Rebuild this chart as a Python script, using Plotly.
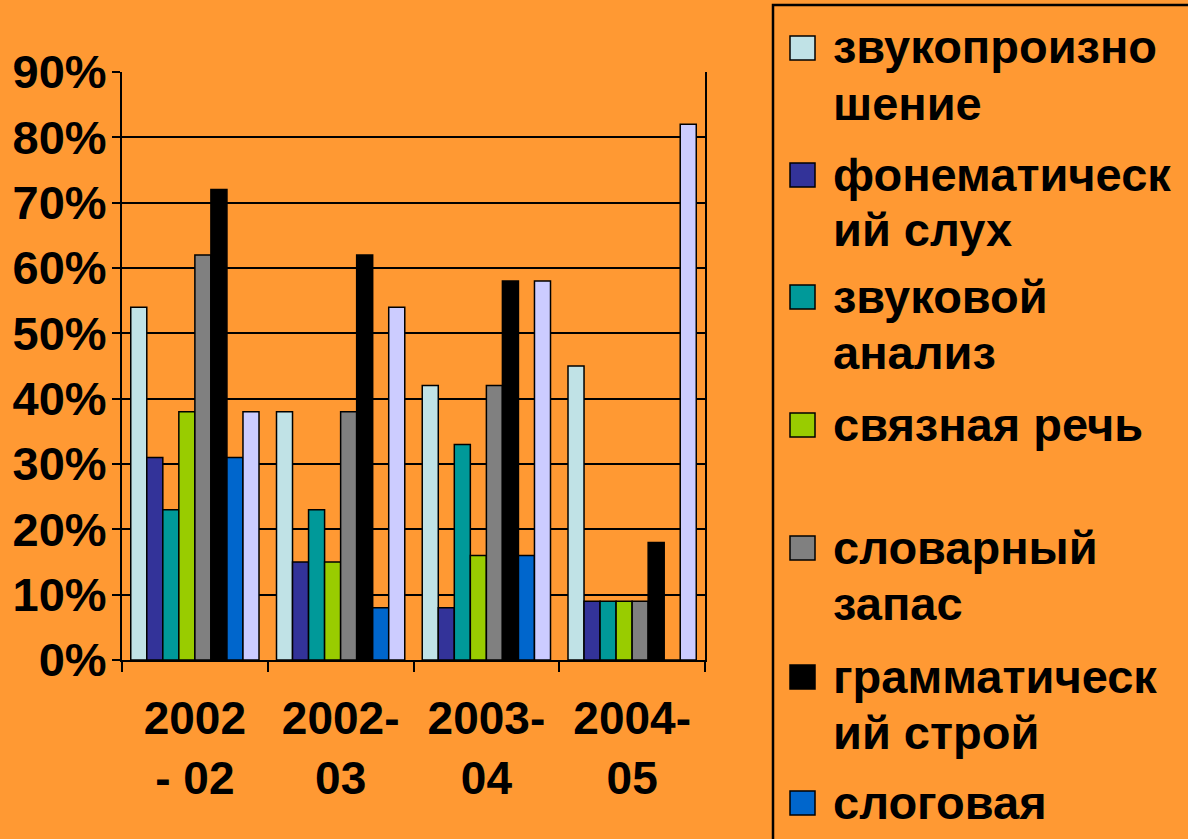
import plotly.graph_objects as go

categories = ["2002<br>- 02", "2002-<br>03", "2003-<br>04", "2004-<br>05"]

series_names = [
    "звукопроизношение",
    "фонематический слух",
    "звуковой анализ",
    "связная речь",
    "словарный запас",
    "грамматический строй",
    "слоговая",
    "",
]
series_colors = ["#C0E2E6", "#333399", "#009999", "#99CC00", "#808080", "#000000", "#0066CC", "#CCCCFF"]

values = [
    [54, 38, 42, 45],
    [31, 15, 8, 9],
    [23, 23, 33, 9],
    [38, 15, 16, 9],
    [62, 38, 42, 9],
    [72, 62, 58, 18],
    [31, 8, 16, 0],
    [38, 54, 58, 82],
]

legend_lines = [
    ["звукопроизно", "шение"],
    ["фонематическ", "ий слух"],
    ["звуковой", "анализ"],
    ["связная речь"],
    ["словарный", "запас"],
    ["грамматическ", "ий строй"],
    ["слоговая"],
]

y_ticks = [0, 10, 20, 30, 40, 50, 60, 70, 80, 90]
y_tick_labels = [f"{v}%" for v in y_ticks]

W, H = 1188, 839
L, R, T, B = 122, 705, 72, 660
BG = "#FF9933"
FONT = "Liberation Sans, Arial, sans-serif"
FS = 46


def px(x):
    return (x - L) / (R - L)


def py(y):
    return (B - y) / (B - T)


fig = go.Figure()
for name, color, vals in zip(series_names, series_colors, values):
    fig.add_trace(go.Bar(
        x=categories, y=vals, name=name,
        marker=dict(color=color, line=dict(color="#000000", width=1.5)),
    ))

shapes = []
annotations = []

# legend box
shapes.append(dict(type="rect", xref="paper", yref="paper",
                   x0=px(773), x1=px(1195), y0=py(850), y1=py(5),
                   line=dict(color="#000000", width=2.5), fillcolor="rgba(0,0,0,0)", layer="above"))

item_y = [48, 175, 297, 425, 548, 677, 803]
line_gap = 56
for i, lines in enumerate(legend_lines):
    yc = item_y[i]
    shapes.append(dict(type="rect", xref="paper", yref="paper",
                       x0=px(790), x1=px(815), y0=py(yc + 12), y1=py(yc - 12),
                       fillcolor=series_colors[i], line=dict(color="#000000", width=1.5),
                       layer="above"))
    for j, t in enumerate(lines):
        annotations.append(dict(
            xref="paper", yref="paper", x=px(831), y=py(yc - 1 + j * line_gap),
            xanchor="left", yanchor="middle", text=t, showarrow=False,
            font=dict(family=FONT, size=47, color="#000000", weight="bold"),
        ))

fig.update_layout(
    width=W, height=H,
    paper_bgcolor=BG, plot_bgcolor=BG,
    margin=dict(l=L, r=W - R, t=T, b=H - B, pad=0),
    barmode="group", bargap=0.12, bargroupgap=0,
    showlegend=False,
    font=dict(family=FONT, size=FS, color="#000000", weight="bold"),
    shapes=shapes, annotations=annotations,
    xaxis=dict(
        showgrid=False, showline=True, linecolor="#000000", linewidth=2,
        ticks="outside", tickson="boundaries", ticklen=10, tickwidth=2, tickcolor="#000000",
        tickfont=dict(family=FONT, size=FS, color="#000000", weight="bold"),
        ticklabelstandoff=17,
    ),
    yaxis=dict(
        range=[0, 90], tickvals=y_ticks, ticktext=y_tick_labels,
        showgrid=True, gridcolor="#000000", gridwidth=2,
        showline=True, linecolor="#000000", linewidth=2, mirror=True,
        ticks="outside", ticklen=8, tickwidth=2, tickcolor="#000000",
        tickfont=dict(family=FONT, size=47, color="#000000", weight="bold"),
        zeroline=False, ticklabelstandoff=-4,
    ),
)

fig.write_html(
    "out.html",
    config={"displayModeBar": False},
    post_script="document.body.style.margin='0';document.body.style.overflow='hidden';document.body.style.background='#FF9933';",
)
